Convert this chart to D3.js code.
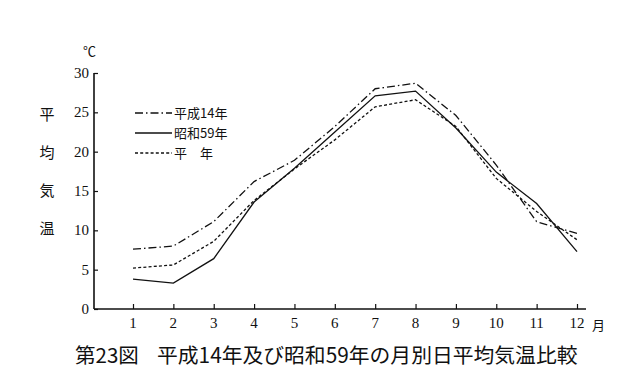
<!DOCTYPE html>
<html lang="ja">
<head>
<meta charset="UTF-8" />
<title>第23図</title>
<style>
  body { margin: 0; background: #fff; }
  .chart svg { display: block; }
  .num { font-family: "Liberation Serif", "DejaVu Serif", serif; font-size: 15px; fill: #111; }
  .jp { font-family: "Noto Sans CJK JP", sans-serif; fill: #111; }
</style>
</head>
<body>
<div class="chart"></div>
<script src="https://d3js.org/d3.v7.min.js"></script>
<script>
// 月
const months = [1, 2, 3, 4, 5, 6, 7, 8, 9, 10, 11, 12];
// 平成14年
const h14 = [7.6, 8.0, 11.1, 16.2, 18.9, 23.2, 28.0, 28.7, 24.6, 18.3, 11.1, 9.6];
// 昭和59年
const s59 = [3.8, 3.3, 6.4, 13.6, 17.9, 22.5, 27.1, 27.7, 23.0, 17.4, 13.4, 7.3];
// 平年
const normal = [5.2, 5.6, 8.6, 13.8, 17.8, 21.5, 25.7, 26.6, 23.2, 16.6, 12.4, 8.8];
const yTicks = [0, 5, 10, 15, 20, 25, 30];

const width = 640, height = 378;
const svg = d3.select('.chart').append('svg')
  .attr('width', width).attr('height', height);

const xScale = d3.scaleLinear().domain([1, 12]).range([133, 577]);
const yScale = d3.scaleLinear().domain([0, 30]).range([309, 73]);
const x0 = 94, xEnd = 586;

// y軸
const yAxis = d3.axisRight(yScale).tickValues(yTicks).tickSize(4).tickFormat('');
const yG = svg.append('g').attr('transform', `translate(${x0},0)`).call(yAxis);
yG.select('.domain').remove();
yG.selectAll('line').attr('stroke', '#111').attr('stroke-width', 1.2);
svg.append('line')
  .attr('x1', x0).attr('x2', x0).attr('y1', yScale(30)).attr('y2', yScale(0))
  .attr('stroke', '#111').attr('stroke-width', 1.6);

svg.selectAll('.ylab').data(yTicks).join('text')
  .attr('class', 'num')
  .attr('x', x0 - 5).attr('y', d => yScale(d) + 5)
  .attr('text-anchor', 'end')
  .text(d => d);

// x軸
const xAxis = d3.axisTop(xScale).tickValues(months).tickSize(5).tickFormat('');
const xG = svg.append('g').attr('transform', `translate(0,${yScale(0)})`).call(xAxis);
xG.select('.domain').remove();
xG.selectAll('line').attr('stroke', '#111').attr('stroke-width', 1.2);
svg.append('line')
  .attr('x1', x0).attr('x2', xEnd).attr('y1', yScale(0)).attr('y2', yScale(0))
  .attr('stroke', '#111').attr('stroke-width', 1.6);

svg.selectAll('.xlab').data(months).join('text')
  .attr('class', 'num')
  .attr('x', d => xScale(d)).attr('y', 328)
  .attr('text-anchor', 'middle')
  .text(d => d);

svg.append('text').attr('class', 'jp').attr('x', 592).attr('y', 330)
  .style('font-size', '13px').text('月');
svg.append('text').attr('class', 'jp').attr('x', 83).attr('y', 56)
  .style('font-size', '13px').text('℃');

// 縦の軸タイトル
const yTitle = ['平', '均', '気', '温'];
svg.selectAll('.ytitle').data(yTitle).join('text')
  .attr('class', 'jp')
  .attr('x', 47).attr('y', (d, i) => 120 + i * 38)
  .attr('text-anchor', 'middle')
  .style('font-size', '15px')
  .text(d => d);

// 折れ線
const series = [
  { name: '平成14年', values: h14, dash: '8,3,1.5,3' },
  { name: '昭和59年', values: s59, dash: null },
  { name: '平　年', values: normal, dash: '3,2.2' }
];
const line = d3.line()
  .x((d, i) => xScale(months[i]))
  .y(d => yScale(d));

svg.selectAll('.series').data(series).join('path')
  .attr('fill', 'none')
  .attr('stroke', '#111')
  .attr('stroke-width', 1.3)
  .attr('stroke-dasharray', d => d.dash)
  .attr('d', d => line(d.values));

// 凡例
const lg = svg.selectAll('.legend').data(series).join('g')
  .attr('transform', (d, i) => `translate(135,${113 + i * 20})`);
lg.append('line')
  .attr('x1', 0).attr('x2', 37).attr('y1', 0).attr('y2', 0)
  .attr('stroke', '#111').attr('stroke-width', 1.3)
  .attr('stroke-dasharray', d => d.dash);
lg.append('text').attr('class', 'jp')
  .attr('x', 39).attr('y', 5)
  .style('font-size', '13px')
  .text(d => d.name);

// 図タイトル
svg.append('text').attr('class', 'jp')
  .attr('x', 75).attr('y', 363)
  .style('font-size', '20.5px')
  .text('第23図');
svg.append('text').attr('class', 'jp')
  .attr('x', 157).attr('y', 363)
  .style('font-size', '20.8px')
  .text('平成14年及び昭和59年の月別日平均気温比較');
</script>
</body>
</html>
